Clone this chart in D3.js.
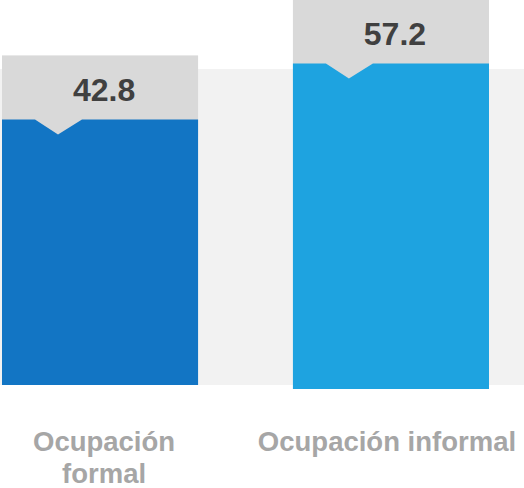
<!DOCTYPE html>
<html>
<head>
<meta charset="utf-8">
<script src="https://cdn.jsdelivr.net/npm/d3@7"></script>
<style>
  body { margin: 0; background: #fff; }
</style>
</head>
<body>
<div id="chart"></div>
<script>
// data
const categories = ['Ocupación formal', 'Ocupación informal'];
const values = [42.8, 57.2];
const barColors = ['#1275c4', '#1ea3e0'];
const labelLines = [['Ocupación', 'formal'], ['Ocupación informal']];

const width = 524;
const height = 488;
const boxHeight = 64;   // grey value box above each bar
const notchHalf = 25;   // half width of the little pointer
const notchDepth = 15;

const x = d3.scaleBand()
    .domain(categories)
    .range([2, 489])
    .paddingInner(0.326)
    .paddingOuter(0);

// bars don't start from zero in the original, so the scale is fitted to it
const y = d3.scaleLinear()
    .domain([40, 60])
    .range([130.3, 52.5]);

const baseline = d => 385 + categories.indexOf(d.cat) * 4;

const data = categories.map((c, i) => ({ cat: c, value: values[i], color: barColors[i], lines: labelLines[i] }));

const svg = d3.select('#chart')
    .append('svg')
    .attr('width', width)
    .attr('height', height);

// light background band
svg.append('rect')
    .attr('x', 0)
    .attr('y', 69)
    .attr('width', width)
    .attr('height', 385 - 69)
    .attr('fill', '#f2f2f2');

const bars = svg.selectAll('g.bar')
    .data(data)
    .join('g')
    .attr('class', 'bar');

// value box (runs down into the notch)
bars.append('rect')
    .attr('x', d => x(d.cat))
    .attr('y', d => y(d.value) - boxHeight)
    .attr('width', x.bandwidth())
    .attr('height', boxHeight + notchDepth + 2)
    .attr('fill', '#d9d9d9');

// bar with a notch pointing down from the box
bars.append('path')
    .attr('fill', d => d.color)
    .attr('d', d => {
        const x0 = x(d.cat);
        const x1 = x0 + x.bandwidth();
        const top = y(d.value);
        const cx = x0 + 56;
        return `M${x0},${top}H${cx - notchHalf + 2}L${cx},${top + notchDepth}L${cx + notchHalf - 1},${top}H${x1}V${baseline(d)}H${x0}Z`;
    });

bars.append('text')
    .attr('x', d => x(d.cat) + x.bandwidth() / 2 + 4)
    .attr('y', d => y(d.value) - 18)
    .attr('text-anchor', 'middle')
    .attr('font-family', 'Liberation Sans, Arial, sans-serif')
    .attr('font-weight', 'bold')
    .attr('font-size', '32px')
    .attr('fill', '#404040')
    .text(d => d.value.toFixed(1));

// category labels
const labels = bars.append('text')
    .attr('text-anchor', 'middle')
    .attr('font-family', 'Liberation Sans, Arial, sans-serif')
    .attr('font-weight', 'bold')
    .attr('font-size', '27.5px')
    .attr('fill', '#a6a6a6')
    .attr('transform', (d, i) => `translate(${x(d.cat) + x.bandwidth() / 2 + 4 - i * 8}, 451)`);

labels.selectAll('tspan')
    .data(d => d.lines)
    .join('tspan')
    .attr('x', 0)
    .attr('dy', (d, i) => i === 0 ? 0 : 32)
    .text(d => d);
</script>
</body>
</html>
